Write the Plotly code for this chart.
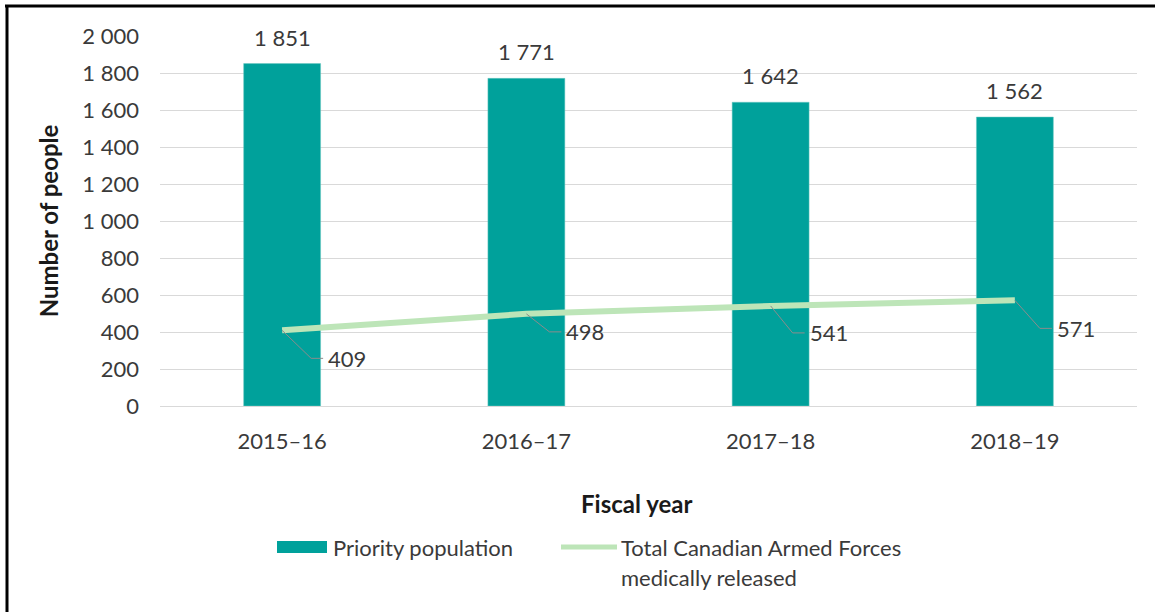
import plotly.graph_objects as go

# Fiscal years and counts
fiscal_years = ["2015–16", "2016–17", "2017–18", "2018–19"]
priority_population = [1851, 1771, 1642, 1562]
medically_released = [409, 498, 541, 571]
y_ticks = [0, 200, 400, 600, 800, 1000, 1200, 1400, 1600, 1800, 2000]

# Leader-line geometry (pixels) for each line label: elbow dx, elbow dy
leader_dx = [29, 23, 22, 25]
leader_dy = [-28, -18, -27, -28]

FONT = "Lato"
TEAL = "#00A19B"
GREEN = "#BDE5B8"
TXT = "#3A3A3A"
SIZE = 22
TITLE_SIZE = 24

fig = go.Figure()
fig.add_trace(go.Bar(
    x=fiscal_years, y=priority_population, name="Priority population",
    marker=dict(color=TEAL, line=dict(color="#6CC8C3", width=0.5)),
    showlegend=False,
))
fig.add_trace(go.Scatter(
    x=fiscal_years, y=medically_released, mode="lines",
    name="Total Canadian Armed Forces medically released",
    line=dict(color=GREEN, width=6), showlegend=False,
))

annotations = []
for cat, v in zip(fiscal_years, priority_population):
    annotations.append(dict(
        x=cat, y=v, xref="x", yref="y", text=f"{v:,}".replace(",", " "),
        showarrow=False, yanchor="bottom", yshift=11,
        font=dict(family=FONT, size=SIZE, color=TXT),
    ))

shapes = []
for cat, v, dx, dy in zip(fiscal_years, medically_released, leader_dx, leader_dy):
    shapes.append(dict(
        type="path", xref="x", yref="y", xsizemode="pixel", ysizemode="pixel",
        xanchor=cat, yanchor=v,
        path=f"M0,0 L{dx},{dy} L{dx + 12},{dy}",
        line=dict(color="#8C8C8C", width=1), layer="above",
    ))
    annotations.append(dict(
        x=cat, y=v, xref="x", yref="y", text=str(v), showarrow=False,
        xanchor="left", yanchor="middle", xshift=dx + 15, yshift=dy,
        font=dict(family=FONT, size=SIZE, color=TXT),
    ))

# Legend and x-axis title placed in paper coordinates
W, H, L, T = 977.0, 370.0, 160.0, 36.0
def px(x):
    return (x - L) / W
def py(y):
    return (T + H - y) / H

annotations.append(dict(
    x=px(636), y=py(503), xref="paper", yref="paper", text="<b>Fiscal year</b>",
    showarrow=False, xanchor="center", yanchor="middle",
    font=dict(family=FONT, size=TITLE_SIZE, color="#1A1A1A"),
))

shapes.append(dict(type="rect", xref="paper", yref="paper",
                   x0=px(277), x1=px(327), y0=py(553), y1=py(541),
                   fillcolor=TEAL, line=dict(width=0)))
annotations.append(dict(x=px(331), y=py(547), xref="paper", yref="paper",
                        text="Priority population", showarrow=False,
                        xanchor="left", yanchor="middle",
                        font=dict(family=FONT, size=SIZE, color=TXT)))
shapes.append(dict(type="line", xref="paper", yref="paper",
                   x0=px(561), x1=px(617), y0=py(547), y1=py(547),
                   line=dict(color=GREEN, width=5)))
annotations.append(dict(x=px(619), y=py(547), xref="paper", yref="paper",
                        text="Total Canadian Armed Forces", showarrow=False,
                        xanchor="left", yanchor="middle",
                        font=dict(family=FONT, size=SIZE, color=TXT)))
annotations.append(dict(x=px(619), y=py(577), xref="paper", yref="paper",
                        text="medically released", showarrow=False,
                        xanchor="left", yanchor="middle",
                        font=dict(family=FONT, size=SIZE, color=TXT)))

# Frame lines along top and left edges
shapes.append(dict(type="line", xref="paper", yref="paper",
                   x0=px(5), x1=px(1160), y0=py(6), y1=py(6),
                   line=dict(color="black", width=3)))
shapes.append(dict(type="line", xref="paper", yref="paper",
                   x0=px(7), x1=px(7), y0=py(5), y1=py(620),
                   line=dict(color="black", width=3)))

fig.update_layout(
    width=1155, height=612,
    margin=dict(l=160, r=18, t=36, b=206),
    paper_bgcolor="white", plot_bgcolor="white",
    separators=". ",
    bargap=0.685,
    showlegend=False,
    font=dict(family=FONT, size=SIZE, color=TXT),
    shapes=shapes, annotations=annotations,
)
fig.update_xaxes(
    type="category", showgrid=False, showline=True, linecolor="#D9D9D9",
    linewidth=1, ticks="", ticklabelstandoff=16,
    tickfont=dict(family=FONT, size=SIZE, color=TXT),
)
fig.update_yaxes(
    range=[0, 2000], tickvals=y_ticks, tickformat=",",
    showgrid=True, gridcolor="#D9D9D9", gridwidth=1, zeroline=False,
    showline=False, ticks="", ticklabelstandoff=20,
    tickfont=dict(family=FONT, size=SIZE, color=TXT),
    title=dict(text="<b>Number of people</b>", standoff=16,
               font=dict(family=FONT, size=TITLE_SIZE, color="#1A1A1A")),
)

fig.write_html("out.html")
